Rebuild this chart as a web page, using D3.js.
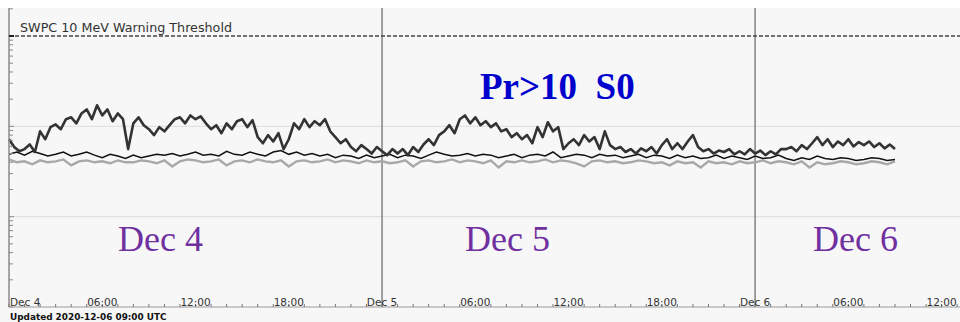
<html>
<head>
<meta charset="utf-8">
<title>GOES proton flux</title>
<script src="https://d3js.org/d3.v7.min.js"></script>
<style>
  body { margin: 0; background: #f7f7f7; }
  svg { display: block; }
</style>
</head>
<body>
<script>
// data (pfu), thick series every 20 min, thin series every 30 min, from Dec 4 00:00 UTC
const start = Date.UTC(2020, 11, 4, 0, 0);
const end = Date.UTC(2020, 11, 6, 13, 11);

const p10 = [
  0.72,0.59,0.53, 0.56,0.63,0.52, 0.88,0.72,0.98, 1.05,0.93,1.20,
  1.26,1.08,1.39, 1.54,1.20,1.71, 1.32,1.54,1.14, 1.39,1.20,0.56,
  1.08,1.26,1.03, 0.93,0.80,0.98, 0.88,1.03,1.20, 1.26,1.08,1.32,
  1.20,1.29,1.08, 0.93,1.03,0.84, 1.08,0.93,1.14, 1.20,0.98,1.17,
  0.76,0.65,0.80, 0.68,0.84,0.56, 0.72,1.08,0.93, 1.20,0.98,1.14,
  1.03,1.20,0.88, 0.76,0.65,0.72, 0.59,0.53,0.62, 0.56,0.50,0.59,
  0.53,0.48,0.56, 0.50,0.56,0.48, 0.59,0.52,0.63, 0.72,0.62,0.80,
  0.88,1.03,0.84, 1.20,1.32,1.08, 1.26,1.03,1.14, 0.98,1.08,0.88,
  0.93,0.76,0.84, 0.72,0.80,0.65, 0.98,0.76,1.11, 0.88,0.98,0.56,
  0.65,0.72,0.62, 0.80,0.68,0.76, 0.56,0.88,0.62, 0.56,0.59,0.52,
  0.56,0.50,0.57, 0.53,0.59,0.50, 0.62,0.72,0.56, 0.65,0.56,0.68,
  0.80,0.59,0.53, 0.56,0.50,0.54, 0.52,0.56,0.49, 0.53,0.49,0.56,
  0.50,0.54,0.48, 0.53,0.49,0.56, 0.56,0.59,0.53, 0.62,0.56,0.65,
  0.76,0.62,0.72, 0.59,0.68,0.62, 0.72,0.60,0.67, 0.62,0.68,0.59,
  0.65,0.57,0.63, 0.56
];

const p50 = [
  0.49,0.52, 0.48,0.53, 0.50,0.47, 0.49,0.52, 0.47,0.49, 0.52,0.48,
  0.45,0.49, 0.47,0.44, 0.48,0.45, 0.47,0.49, 0.48,0.50, 0.47,0.49,
  0.52,0.48, 0.49,0.47, 0.53,0.49, 0.48,0.52, 0.49,0.47, 0.52,0.54,
  0.49,0.52, 0.48,0.50, 0.47,0.49, 0.45,0.48, 0.47,0.44, 0.48,0.45,
  0.47,0.49, 0.45,0.48, 0.47,0.44, 0.48,0.52, 0.49,0.47, 0.48,0.50,
  0.47,0.49, 0.48,0.45, 0.47,0.49, 0.45,0.48, 0.49,0.47, 0.52,0.45,
  0.47,0.49, 0.48,0.45, 0.49,0.47, 0.48,0.45, 0.47,0.49, 0.45,0.48,
  0.47,0.44, 0.48,0.45, 0.47,0.44, 0.45,0.48, 0.44,0.47, 0.45,0.43,
  0.47,0.44, 0.45,0.48, 0.44,0.42, 0.45,0.43, 0.47,0.44, 0.43,0.45,
  0.44,0.42, 0.43,0.45, 0.44,0.42, 0.43
];

const p100 = [
  0.43,0.40, 0.41,0.38, 0.42,0.40, 0.41,0.43, 0.37,0.41, 0.42,0.40,
  0.41,0.39, 0.42,0.40, 0.40,0.42, 0.41,0.39, 0.42,0.36, 0.41,0.43,
  0.42,0.40, 0.41,0.43, 0.37,0.41, 0.42,0.40, 0.43,0.41, 0.40,0.42,
  0.36,0.41, 0.42,0.40, 0.41,0.43, 0.40,0.42, 0.41,0.39, 0.42,0.40,
  0.41,0.39, 0.40,0.42, 0.36,0.41, 0.42,0.40, 0.41,0.43, 0.40,0.42,
  0.41,0.39, 0.42,0.35, 0.41,0.40, 0.42,0.40, 0.41,0.43, 0.40,0.42,
  0.41,0.39, 0.36,0.41, 0.42,0.40, 0.41,0.39, 0.40,0.42, 0.41,0.39,
  0.40,0.37, 0.41,0.39, 0.40,0.35, 0.41,0.39, 0.40,0.38, 0.41,0.39,
  0.40,0.42, 0.39,0.41, 0.40,0.38, 0.41,0.35, 0.40,0.38, 0.39,0.41,
  0.40,0.38, 0.39,0.41, 0.40,0.38, 0.41
];

const yTicks = [0.01,0.02,0.03,0.04,0.05,0.06,0.07,0.08,0.09,
  0.1,0.2,0.3,0.4,0.5,0.6,0.7,0.8,0.9,
  1,2,3,4,5,6,7,8,9,
  10,20];
const majorTicks = [0.1, 1, 10];
const gridValues = [0.1, 1];
const threshold = 10;
const dayNotes = ["Dec 4", "Dec 5", "Dec 6"];
const dayNoteX = [118, 465, 813];

const W = 960, H = 322;
const plot = {left: 9, right: 960, top: 8, bottom: 307};

const svg = d3.select("body").append("svg")
  .attr("width", W).attr("height", H)
  .attr("font-family", "DejaVu Sans, sans-serif");

svg.append("rect").attr("x", 0).attr("y", 0).attr("width", W).attr("height", H).attr("fill", "#f7f7f7");
svg.append("rect").attr("x", 0).attr("y", 0).attr("width", W).attr("height", plot.top).attr("fill", "#ffffff");

const x = d3.scaleUtc().domain([start, end]).range([plot.left, plot.right]);
const y = d3.scaleLog().domain([0.01, 20.43]).range([plot.bottom, plot.top]);

// horizontal grid
svg.append("g").selectAll("line").data(gridValues).join("line")
  .attr("x1", plot.left).attr("x2", plot.right)
  .attr("y1", d => y(d)).attr("y2", d => y(d))
  .attr("stroke", "#dcdcdc").attr("stroke-width", 1);

// day boundaries
const dayTimes = [Date.UTC(2020, 11, 5), Date.UTC(2020, 11, 6)];
svg.append("g").selectAll("line").data(dayTimes).join("line")
  .attr("x1", d => x(d)).attr("x2", d => x(d))
  .attr("y1", plot.top).attr("y2", plot.bottom)
  .attr("stroke", "#7a7a7a").attr("stroke-width", 1.4);

// threshold
svg.append("line")
  .attr("x1", plot.left).attr("x2", plot.right)
  .attr("y1", y(threshold)).attr("y2", y(threshold))
  .attr("stroke", "#444").attr("stroke-width", 1.4)
  .attr("stroke-dasharray", "4,2");
svg.append("text")
  .attr("x", 20).attr("y", y(threshold) - 4)
  .attr("font-size", 11.5).attr("fill", "#333")
  .attr("textLength", 212).attr("lengthAdjust", "spacingAndGlyphs")
  .text("SWPC 10 MeV Warning Threshold");

// series
function series(values, stepMin) {
  return values.map((v, i) => ({t: start + i * stepMin * 60000, v: v}));
}
const line = d3.line().x(d => x(d.t)).y(d => y(d.v));

svg.append("path").datum(series(p100, 30))
  .attr("d", line).attr("fill", "none")
  .attr("stroke", "#a8a8a8").attr("stroke-width", 2.4);
svg.append("path").datum(series(p50, 30))
  .attr("d", line).attr("fill", "none")
  .attr("stroke", "#111").attr("stroke-width", 1.5);
svg.append("path").datum(series(p10, 20))
  .attr("d", line).attr("fill", "none")
  .attr("stroke", "#333").attr("stroke-width", 2.6)
  .attr("stroke-linejoin", "round");

// left axis
svg.append("line")
  .attr("x1", plot.left).attr("x2", plot.left)
  .attr("y1", plot.top).attr("y2", plot.bottom)
  .attr("stroke", "#8a8a8a").attr("stroke-width", 1.5);
svg.append("g").selectAll("line").data(yTicks).join("line")
  .attr("x1", plot.left).attr("x2", d => plot.left + (majorTicks.includes(d) ? 5 : 4))
  .attr("y1", d => y(d)).attr("y2", d => y(d))
  .attr("stroke", d => d === threshold ? "#222" : "#8a8a8a")
  .attr("stroke-width", d => d === threshold ? 2 : 1);

// bottom axis
svg.append("line")
  .attr("x1", plot.left).attr("x2", plot.right)
  .attr("y1", plot.bottom).attr("y2", plot.bottom)
  .attr("stroke", "#9a9a9a").attr("stroke-width", 1);
const hours = d3.utcHour.range(new Date(start), new Date(end));
svg.append("g").selectAll("line").data(hours).join("line")
  .attr("x1", d => x(d)).attr("x2", d => x(d))
  .attr("y1", plot.bottom).attr("y2", plot.bottom - 3)
  .attr("stroke", "#777").attr("stroke-width", 1);
const labelTimes = d3.utcHour.every(6).range(new Date(start), new Date(end));
const fmt = d => d.getUTCHours() === 0 ? d3.utcFormat("%b %-d")(d) : d3.utcFormat("%H:%M")(d);
svg.append("g").selectAll("text").data(labelTimes).join("text")
  .attr("x", (d, i) => i === 0 ? plot.left + 1 : x(d))
  .attr("y", plot.bottom - 1.5)
  .attr("text-anchor", (d, i) => i === 0 ? "start" : "middle")
  .attr("font-size", 10.5).attr("fill", "#333")
  .text(fmt);

svg.append("text")
  .attr("x", 10).attr("y", 319.5)
  .attr("font-size", 8.9).attr("font-weight", "bold").attr("fill", "#111")
  .text("Updated 2020-12-06 09:00 UTC");

// annotations
svg.append("text")
  .attr("x", 480).attr("y", 99)
  .attr("font-family", "Liberation Serif, Times New Roman, serif")
  .attr("font-size", 37).attr("font-weight", "bold").attr("fill", "#0000cc")
  .style("white-space", "pre")
  .text("Pr>10  S0");

svg.append("g").selectAll("text").data(dayNotes).join("text")
  .attr("x", (d, i) => dayNoteX[i])
  .attr("y", 251)
  .attr("font-family", "Liberation Serif, Times New Roman, serif")
  .attr("font-size", 36).attr("fill", "#7030a0")
  .text(d => d);
</script>
</body>
</html>
